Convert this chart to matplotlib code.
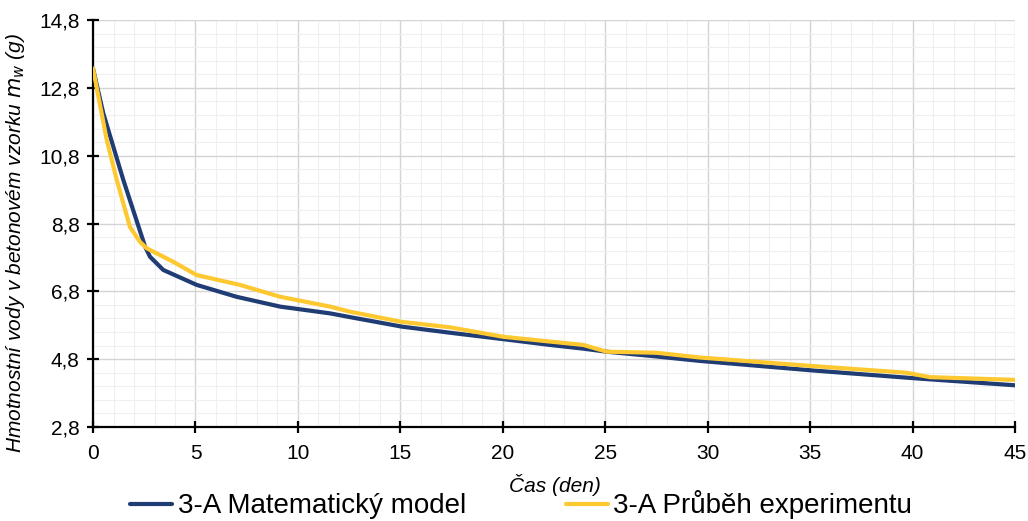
import matplotlib
matplotlib.use("Agg")
import matplotlib.pyplot as plt
from matplotlib.ticker import MultipleLocator, FuncFormatter

plt.rcParams['font.family'] = ['Liberation Sans', 'DejaVu Sans']

# Mathematical model (days, grams)
t_model = [0, 0.5, 1.48, 2.54, 2.78, 3.43, 5.06, 7.0, 9.13, 11.57, 12.54, 15.07,
           17.42, 20.02, 22.3, 23.93, 25.07, 27.5, 29.6, 35.07, 40.03, 45]
m_model = [13.37, 12.05, 10.08, 8.12, 7.82, 7.43, 6.99, 6.64, 6.35, 6.15, 6.04, 5.76,
           5.58, 5.39, 5.22, 5.11, 5.02, 4.88, 4.75, 4.47, 4.24, 4.03]

# Experiment record (days, grams)
t_exp = [0, 0.67, 1.16, 1.8, 2.29, 2.62, 3.92, 5.06, 7.17, 9.13, 11.57, 12.54, 15.07,
         17.42, 20.02, 22.3, 23.93, 25.07, 27.5, 29.6, 35.07, 39.7, 40.85, 45]
m_exp = [13.37, 11.26, 10.08, 8.7, 8.26, 8.07, 7.67, 7.28, 6.99, 6.64, 6.35, 6.2, 5.9,
         5.74, 5.46, 5.32, 5.22, 5.02, 4.99, 4.85, 4.6, 4.4, 4.27, 4.19]

x_ticks = list(range(0, 46, 5))
y_ticks = [2.8, 4.8, 6.8, 8.8, 10.8, 12.8, 14.8]

fig = plt.figure(figsize=(10.28, 5.21), dpi=100)
ax = fig.add_axes([0.0905, 0.1804, 0.8969, 0.7812])

ax.plot(t_model, m_model, color='#203c74', lw=3.0, label='3-A Matematický model',
        solid_capstyle='round', solid_joinstyle='round', zorder=3)
ax.plot(t_exp, m_exp, color='#fdc830', lw=3.0, label='3-A Průběh experimentu',
        solid_capstyle='round', solid_joinstyle='round', zorder=4)

ax.set_xlim(0, 45)
ax.set_ylim(2.8, 14.8)
ax.set_xticks(x_ticks)
ax.set_yticks(y_ticks)
ax.xaxis.set_minor_locator(MultipleLocator(1))
ax.yaxis.set_minor_locator(MultipleLocator(0.4))
ax.yaxis.set_major_formatter(FuncFormatter(lambda v, p: f"{v:.1f}".replace('.', ',')))

ax.grid(which='major', color='#d4d4d4', lw=1.0, zorder=0)
ax.grid(which='minor', color='#efefef', lw=0.8, zorder=0)
ax.set_axisbelow(True)

for s in ('top', 'right'):
    ax.spines[s].set_visible(False)
for s in ('left', 'bottom'):
    ax.spines[s].set_linewidth(1.6)
    ax.spines[s].set_color('black')

ax.tick_params(which='major', direction='inout', length=9, width=1.6,
               colors='black')
ax.tick_params(axis='x', which='major', labelsize=15, pad=8)
ax.tick_params(axis='y', which='major', labelsize=15, pad=5)
ax.tick_params(which='minor', length=0)

ax.set_xlabel('Čas (den)', fontsize=15, fontstyle='italic')
ax.xaxis.set_label_coords(0.501, -0.115)
ax.set_ylabel('Hmotnostní vody v betonovém vzorku $m_w$ (g)', fontsize=15,
              fontstyle='italic')
ax.yaxis.set_label_coords(-0.0716, 0.452)

fig.legend(loc='lower center', bbox_to_anchor=(0.507, -0.045), ncol=2, frameon=False,
           fontsize=20, handlelength=1.5, columnspacing=3.6, handletextpad=0.2)

fig.savefig('out.png', dpi=100)
